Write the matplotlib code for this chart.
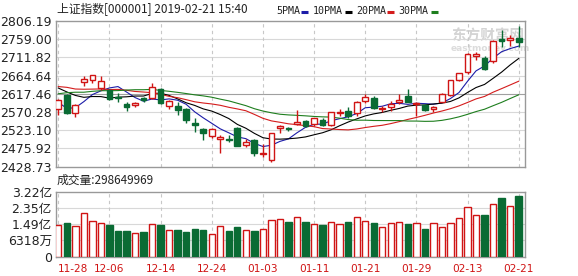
import matplotlib
matplotlib.use('Agg')
import matplotlib.pyplot as plt
import numpy as np
import pandas as pd

plt.rcParams['font.family'] = ['DejaVu Sans', 'Noto Sans CJK SC']

# ---- data ----
dates = ['11-28', '11-29', '11-30', '12-03', '12-04', '12-05', '12-06', '12-07', '12-10', '12-11',
         '12-12', '12-13', '12-14', '12-17', '12-18', '12-19', '12-20', '12-21', '12-24', '12-25',
         '12-26', '12-27', '12-28', '01-02', '01-03', '01-04', '01-07', '01-08', '01-09', '01-10',
         '01-11', '01-14', '01-15', '01-16', '01-17', '01-18', '01-21', '01-22', '01-23', '01-24',
         '01-25', '01-28', '01-29', '01-30', '01-31', '02-01', '02-11', '02-12', '02-13', '02-14',
         '02-15', '02-18', '02-19', '02-20', '02-21']
opens = [2578, 2615, 2567, 2647, 2654, 2632, 2627, 2609, 2590, 2589,
         2606, 2608, 2629, 2587, 2585, 2578, 2541, 2527, 2508, 2500,
         2501, 2529, 2484, 2498, 2461, 2446, 2528, 2530, 2539, 2546,
         2540, 2551, 2536, 2567, 2572, 2567, 2600, 2608, 2577, 2584,
         2597, 2611, 2590, 2588, 2577, 2597, 2614, 2654, 2674, 2716,
         2711, 2702, 2760, 2757, 2761]
highs = [2604, 2617, 2590, 2664, 2667, 2663, 2629, 2620, 2597, 2597,
         2610, 2646, 2632, 2602, 2597, 2580, 2555, 2529, 2530, 2512,
         2510, 2532, 2500, 2500, 2488, 2515, 2536, 2531, 2575, 2551,
         2556, 2556, 2571, 2578, 2584, 2598, 2618, 2611, 2586, 2600,
         2618, 2630, 2597, 2592, 2587, 2618.5, 2654, 2672, 2723, 2726,
         2715, 2758, 2784, 2769, 2794]
lows = [2563, 2566, 2557, 2638, 2645, 2628, 2601, 2597, 2574, 2584,
        2597, 2604, 2590, 2579, 2562, 2542, 2519, 2498, 2503, 2463,
        2493, 2482, 2481, 2456, 2455, 2441, 2515, 2520, 2538, 2531,
        2533, 2533, 2533, 2559, 2556, 2560, 2593, 2577, 2570, 2573,
        2590, 2596, 2559, 2573, 2571, 2596, 2612, 2651, 2670, 2706,
        2680, 2698, 2739, 2742, 2738]
closes = [2601.74, 2567.44, 2588.19, 2654.80, 2665.96, 2649.81, 2605.18, 2605.89, 2584.58, 2594.09,
          2602.15, 2634.05, 2593.74, 2597.97, 2576.65, 2549.56, 2536.27, 2516.25, 2527.01, 2504.82,
          2498.29, 2483.09, 2493.90, 2465.29, 2464.36, 2514.87, 2533.09, 2526.46, 2544.34, 2535.10,
          2553.83, 2535.77, 2570.35, 2570.42, 2559.64, 2596.01, 2610.51, 2579.70, 2581.00, 2591.69,
          2601.72, 2596.98, 2594.25, 2575.58, 2584.57, 2618.23, 2653.90, 2671.89, 2721.07, 2719.70,
          2682.39, 2754.36, 2755.65, 2761.22, 2751.80]
# closes before the window, needed for the moving averages
prior_close = [2486.42, 2550.47, 2654.80, 2594.83, 2603.30, 2603.80, 2598.85, 2542.10, 2568.05, 2602.78,
               2606.24, 2676.48, 2665.43, 2659.36, 2641.34, 2635.63, 2598.87, 2630.52, 2654.88, 2632.24,
               2668.17, 2679.11, 2703.51, 2645.43, 2651.51, 2645.85, 2579.48, 2575.81, 2574.68]
volume = [1.57, 1.67, 1.50, 2.16, 1.77, 1.65, 1.57, 1.29, 1.29, 1.17,
          1.22, 1.62, 1.57, 1.32, 1.32, 1.22, 1.37, 1.34, 1.12, 1.50,
          1.29, 1.47, 1.32, 1.29, 1.37, 1.82, 1.87, 1.72, 1.98, 1.72,
          1.60, 1.55, 1.70, 1.60, 1.70, 1.98, 1.75, 1.65, 1.45, 1.65,
          1.70, 1.60, 1.65, 1.37, 1.65, 1.45, 1.65, 1.90, 2.44, 2.05,
          2.06, 2.59, 2.89, 2.49, 2.986]  # 亿

price_labels = ['2428.73', '2475.92', '2523.10', '2570.28', '2617.46',
                '2664.64', '2711.82', '2759.00', '2806.19']
vol_labels = ['0', '6318万', '1.49亿', '2.35亿', '3.22亿']
vol_top = 3.22
ma_windows = [5, 10, 20, 30]
ma_names = ['5PMA', '10PMA', '20PMA', '30PMA']
ma_colors = ['#1c1ca8', '#000000', '#d41c1c', '#1e7e1e']

RED = '#d01414'
GREEN = '#0a6b34'
W, H = 578, 276


def rect(l, t, r, b):
    return [l / W, 1 - b / H, (r - l) / W, (b - t) / H]


fig = plt.figure(figsize=(W / 100, H / 100), dpi=100)
ax = fig.add_axes(rect(56, 21, 525.3, 166.7))
axv = fig.add_axes(rect(56, 191.7, 525.3, 256.7))

x = np.arange(len(dates))
o = np.array(opens, float)
c = np.array(closes, float)
up = c >= o

# watermark (behind everything in the price panel)
ax.text(0.92, 0.9, '东方财富网', transform=ax.transAxes, fontsize=10.5,
        family=['Noto Sans CJK SC'], fontweight='bold', color='#d4d4d4',
        ha='center', va='center', zorder=0)
ax.text(0.925, 0.81, 'eastmoney.com', transform=ax.transAxes, fontsize=6.5,
        fontweight='bold', color='#dcdcdc', ha='center', va='center', zorder=0)

# moving averages
s = pd.Series(prior_close + closes)
for w, col in zip(ma_windows, ma_colors):
    ma = s.rolling(w).mean().iloc[len(prior_close):].values
    ax.plot(x, ma, color=col, lw=0.8, zorder=2)

# candles
ax.vlines(x, lows, highs, colors=np.where(up, RED, GREEN), lw=1.0, zorder=3)
body = np.where(np.abs(c - o) < 0.8, 0.8 * np.sign(c - o + 1e-9), c - o)
ax.bar(x, body, bottom=o, width=0.68, color=np.where(up, 'white', GREEN),
       edgecolor=np.where(up, RED, GREEN), lw=1.0, zorder=4)

# volume
axv.bar(x, volume, width=0.74, color=np.where(up, 'white', GREEN),
        edgecolor=np.where(up, RED, GREEN), lw=1.0, zorder=3)

price_ticks = np.linspace(2428.73, 2806.19, 9)
ax.set_ylim(price_ticks[0], price_ticks[-1])
ax.set_yticks(price_ticks)
ax.set_yticklabels(price_labels)
for i, yv in enumerate(price_ticks[1:-1], 1):
    ax.axhline(yv, color='#a0a0a0' if i == 4 else '#d8d8d8', lw=0.8, zorder=1)

vt = np.linspace(0, vol_top, 5)
axv.set_ylim(0, vol_top)
axv.set_yticks(vt)
axv.set_yticklabels(vol_labels, family=['DejaVu Sans', 'Noto Sans CJK SC'])
for yv in vt[1:-1]:
    axv.axhline(yv, color='#d8d8d8', lw=0.8, zorder=1)

tick_pos = x[::6]
for a in (ax, axv):
    a.set_xlim(-0.27, len(dates) - 0.22)
    for xv in tick_pos:
        a.axvline(xv, color='#c8c8c8', lw=0.8, ls=(0, (3, 3)), zorder=1)
    for sp in a.spines.values():
        sp.set_color('#999999')
        sp.set_linewidth(1.0)
    a.tick_params(length=0, labelsize=9, pad=3, colors='#222222')
    a.set_xticks(tick_pos)

ax.set_xticklabels([])
axv.set_xticklabels([dates[i] for i in tick_pos], color=RED, fontsize=7.6)
axv.tick_params(axis='x', pad=5)
axv.get_xticklabels()[0].set_horizontalalignment('left')

cjk = ['Noto Sans CJK SC', 'DejaVu Sans']
fig.text(57 / W, 1 - 10 / H, '上证指数[000001] 2019-02-21 15:40', fontsize=8.5,
         family=cjk, va='center', ha='left', color='#222222')
fig.text(57 / W, 1 - 180 / H, '成交量:298649969', fontsize=8.5,
         family=cjk, va='center', ha='left', color='#222222')

# MA legend: label then a short coloured dash
lx = [276, 313, 356, 398]
dash_x = [301, 345, 387, 431]
for name, col, px, dx in zip(ma_names, ma_colors, lx, dash_x):
    fig.text(px / W, 1 - 11 / H, name, fontsize=7.2, family='DejaVu Sans Mono',
             va='center', ha='left', color='#222222')
    fig.add_artist(plt.Line2D([dx / W, (dx + 7) / W], [1 - 11.5 / H, 1 - 11.5 / H],
                              color=col, lw=2.2, solid_capstyle='butt',
                              transform=fig.transFigure))

fig.savefig('out.png', dpi=100)
